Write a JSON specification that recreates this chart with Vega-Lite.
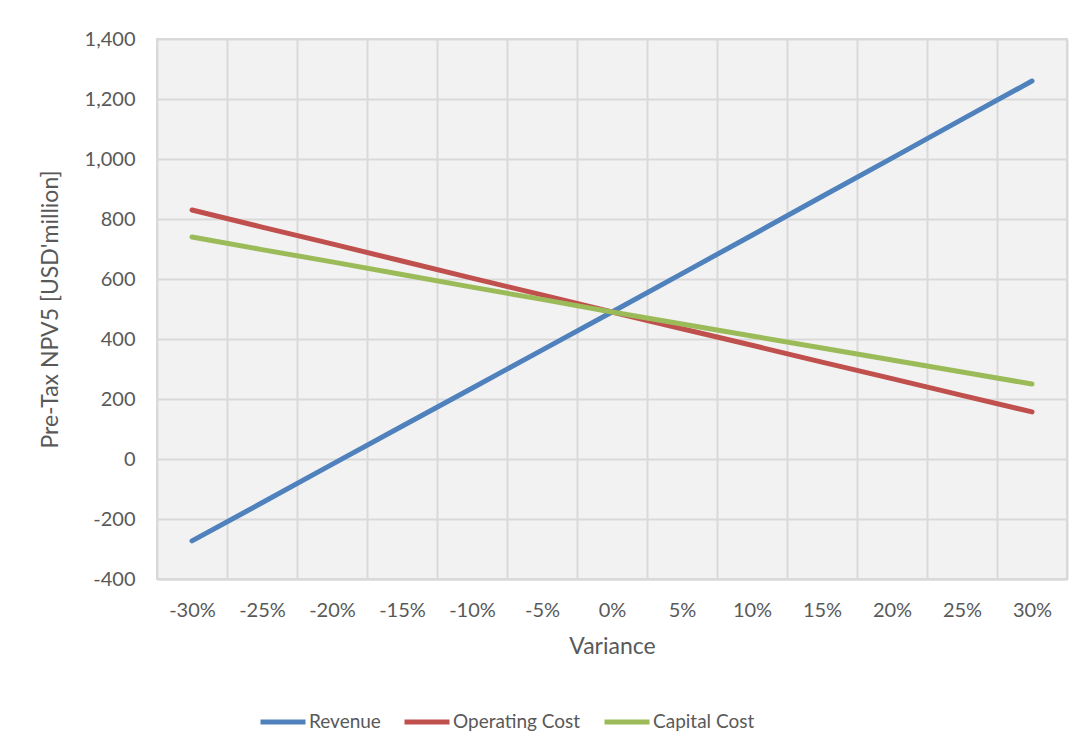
{
  "$schema": "https://vega.github.io/schema/vega-lite/v6.json",
  "autosize": "none",
  "width": 910,
  "height": 540,
  "padding": {"left": 157, "top": 39, "right": 20, "bottom": 174},
  "background": "white",
  "config": {
    "font": "Lato",
    "view": {"fill": "#F2F2F2", "stroke": "#D9D9D9", "strokeWidth": 2}
  },
  "data": {
    "values": [
      {"Variance": -30, "Series": "Revenue", "NPV": -273},
      {"Variance": -25, "Series": "Revenue", "NPV": -146},
      {"Variance": -20, "Series": "Revenue", "NPV": -18},
      {"Variance": -15, "Series": "Revenue", "NPV": 109},
      {"Variance": -10, "Series": "Revenue", "NPV": 236},
      {"Variance": -5, "Series": "Revenue", "NPV": 363},
      {"Variance": 0, "Series": "Revenue", "NPV": 490},
      {"Variance": 5, "Series": "Revenue", "NPV": 618},
      {"Variance": 10, "Series": "Revenue", "NPV": 746},
      {"Variance": 15, "Series": "Revenue", "NPV": 875},
      {"Variance": 20, "Series": "Revenue", "NPV": 1003},
      {"Variance": 25, "Series": "Revenue", "NPV": 1132},
      {"Variance": 30, "Series": "Revenue", "NPV": 1260},
      {"Variance": -30, "Series": "Operating Cost", "NPV": 830},
      {"Variance": -25, "Series": "Operating Cost", "NPV": 773},
      {"Variance": -20, "Series": "Operating Cost", "NPV": 717},
      {"Variance": -15, "Series": "Operating Cost", "NPV": 660},
      {"Variance": -10, "Series": "Operating Cost", "NPV": 603},
      {"Variance": -5, "Series": "Operating Cost", "NPV": 547},
      {"Variance": 0, "Series": "Operating Cost", "NPV": 490},
      {"Variance": 5, "Series": "Operating Cost", "NPV": 434},
      {"Variance": 10, "Series": "Operating Cost", "NPV": 379},
      {"Variance": 15, "Series": "Operating Cost", "NPV": 323},
      {"Variance": 20, "Series": "Operating Cost", "NPV": 268},
      {"Variance": 25, "Series": "Operating Cost", "NPV": 212},
      {"Variance": 30, "Series": "Operating Cost", "NPV": 157},
      {"Variance": -30, "Series": "Capital Cost", "NPV": 740},
      {"Variance": -25, "Series": "Capital Cost", "NPV": 698},
      {"Variance": -20, "Series": "Capital Cost", "NPV": 657},
      {"Variance": -15, "Series": "Capital Cost", "NPV": 615},
      {"Variance": -10, "Series": "Capital Cost", "NPV": 573},
      {"Variance": -5, "Series": "Capital Cost", "NPV": 532},
      {"Variance": 0, "Series": "Capital Cost", "NPV": 490},
      {"Variance": 5, "Series": "Capital Cost", "NPV": 450},
      {"Variance": 10, "Series": "Capital Cost", "NPV": 410},
      {"Variance": 15, "Series": "Capital Cost", "NPV": 370},
      {"Variance": 20, "Series": "Capital Cost", "NPV": 330},
      {"Variance": 25, "Series": "Capital Cost", "NPV": 290},
      {"Variance": 30, "Series": "Capital Cost", "NPV": 250}
    ]
  },
  "mark": {"type": "line", "strokeWidth": 5, "strokeCap": "round", "strokeJoin": "round"},
  "encoding": {
    "x": {
      "field": "Variance",
      "type": "ordinal",
      "bandPosition": 0.5,
      "scale": {"type": "band", "paddingInner": 0, "paddingOuter": 0},
      "axis": {
        "title": "Variance",
        "labelExpr": "isValid(datum.value) ? datum.value + '%' : ''",
        "labelAngle": 0,
        "tickBand": "extent",
        "grid": true,
        "gridColor": "#D9D9D9",
        "gridWidth": 2,
        "ticks": false,
        "domain": true,
        "domainColor": "#D9D9D9",
        "domainWidth": 2,
        "labelFont": "Lato",
        "labelFontSize": 20,
        "labelColor": "#595959",
        "labelPadding": 21,
        "titleFont": "Lato",
        "titleFontSize": 23,
        "titleFontWeight": "normal",
        "titleColor": "#595959",
        "titlePadding": 15
      }
    },
    "y": {
      "field": "NPV",
      "type": "quantitative",
      "scale": {"domain": [-400, 1400], "nice": false, "zero": false},
      "axis": {
        "title": "Pre-Tax NPV5 [USD'million]",
        "values": [-400, -200, 0, 200, 400, 600, 800, 1000, 1200, 1400],
        "labelExpr": "replace(format(datum.value, ',d'), '\u2212', '-')",
        "grid": true,
        "gridColor": "#D9D9D9",
        "gridWidth": 2,
        "ticks": false,
        "domain": false,
        "labelFont": "Lato",
        "labelFontSize": 20,
        "labelColor": "#595959",
        "labelPadding": 22,
        "titleFont": "Lato",
        "titleFontSize": 23,
        "titleFontWeight": "normal",
        "titleColor": "#595959",
        "titlePadding": 22
      }
    },
    "color": {
      "field": "Series",
      "type": "nominal",
      "scale": {
        "domain": ["Revenue", "Operating Cost", "Capital Cost"],
        "range": ["#4F81BD", "#C0504D", "#9BBB59"]
      },
      "legend": {
        "title": null,
        "orient": "none",
        "direction": "horizontal",
        "legendX": 101,
        "legendY": 658,
        "symbolType": "stroke",
        "symbolSize": 2025,
        "symbolStrokeWidth": 5,
        "labelFont": "Lato",
        "labelFontSize": 19,
        "labelColor": "#595959",
        "labelOffset": 1,
        "columnPadding": 13
      }
    }
  }
}
